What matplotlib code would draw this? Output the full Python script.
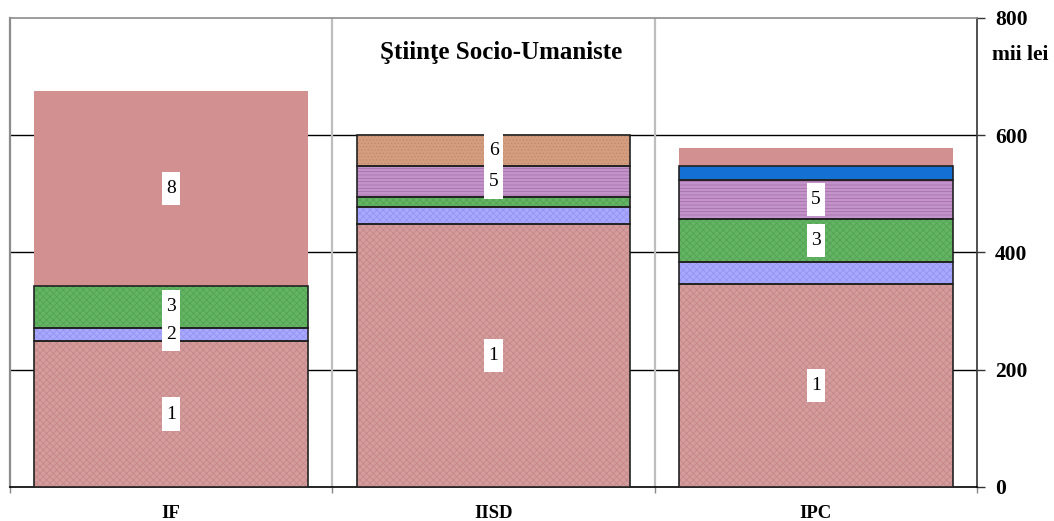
import numpy as np
import matplotlib
matplotlib.use('Agg')
from matplotlib import pyplot as plt
from matplotlib.path import Path

# date (mii lei)
categorii = ['IF', 'IISD', 'IPC']
seg1 = [249, 449, 347]
seg2 = [23, 29, 37]
seg3 = [71, 16, 73]
seg4 = [0, 0, 0]
seg5 = [0, 53, 67]
seg6 = [0, 53, 0]
seg7 = [0, 0, 23]
seg8 = [333, 0, 31]

# ce segmente au eticheta (1..8) pe fiecare coloana
etichete = [[1, 2, 3, 8], [1, 5, 6], [1, 3, 5]]

titlu = 'Ştiinţe Socio-Umaniste'
unitate = 'mii lei'
yticks = [0, 200, 400, 600, 800]

plt.rcParams['font.family'] = ['Liberation Serif', 'DejaVu Serif']
plt.rcParams['hatch.linewidth'] = 0.5

# stil pentru fiecare serie: culoare, hasura, culoare hasura, contur
stiluri = [
    ('#D49C9C', 'xxxxx', '#C48585', True),
    ('#A8A8FF', 'xxxxx', '#9292F0', True),
    ('#63B463', 'xxxxx', '#52A052', True),
    ('#C0C0C0', '', '#C0C0C0', True),
    ('#C394C9', '-----', '#A46AA8', True),
    ('#D59D7F', '.....', '#C08869', True),
    ('#1470D2', '', '#1470D2', True),
    ('#D39090', '', '#D39090', False),
]

serii = [seg1, seg2, seg3, seg4, seg5, seg6, seg7, seg8]


def cutie_alba(x0, y0, width, height, mutation_size):
    # dreptunghi cu margine mica pe orizontala, mai mare pe verticala
    px = 0.22 * mutation_size
    py = 0.42 * mutation_size
    x1, y1 = x0 - px, y0 - py
    x2, y2 = x0 + width + px, y0 + height + py
    return Path([(x1, y1), (x2, y1), (x2, y2), (x1, y2), (x1, y1)], closed=True)


fig = plt.figure(figsize=(10.54, 5.21), dpi=100)
ax = fig.add_axes([10 / 1054, 34 / 521, 967 / 1054, 469 / 521])

x = np.arange(len(categorii))
latime = 0.85
baza = np.zeros(len(categorii))

for i, (serie, stil) in enumerate(zip(serii, stiluri)):
    v = np.array(serie, dtype=float)
    culoare, hasura, cul_has, contur = stil
    ax.bar(x, v, latime, bottom=baza, color=culoare, hatch=hasura,
           edgecolor=cul_has, linewidth=0, zorder=3)
    if contur:
        for j in range(len(categorii)):
            if v[j] > 0:
                ax.bar(x[j], v[j], latime, bottom=baza[j], fill=False,
                       edgecolor='#222222', linewidth=1.2, zorder=4)
    for j in range(len(categorii)):
        if (i + 1) in etichete[j] and v[j] > 0:
            ax.text(x[j], baza[j] + v[j] / 2, str(i + 1), ha='center', va='center',
                    fontsize=14, zorder=6,
                    bbox=dict(boxstyle=cutie_alba, facecolor='white', edgecolor='none'))
    baza = baza + v

ax.set_xlim(-0.5, len(categorii) - 0.5)
ax.set_ylim(0, 800)

# linii orizontale
for yv in yticks[1:-1]:
    ax.axhline(yv, color='black', linewidth=1.0, zorder=1)
# separatori intre categorii
for xv in np.arange(0.5, len(categorii) - 0.5, 1):
    ax.axvline(xv, color='#BEBEBE', linewidth=1.6, zorder=1)

ax.spines['left'].set_color('#8C8C8C')
ax.spines['left'].set_linewidth(1.6)
ax.spines['top'].set_color('#8C8C8C')
ax.spines['top'].set_linewidth(1.2)
ax.spines['right'].set_color('#333333')
ax.spines['right'].set_linewidth(1.2)
ax.spines['bottom'].set_color('black')
ax.spines['bottom'].set_linewidth(1.2)

ax.yaxis.tick_right()
ax.set_yticks(yticks)
ax.set_yticklabels([str(t) for t in yticks], fontsize=15.5, fontweight='bold')
ax.tick_params(axis='y', direction='out', length=6, width=1, pad=7, color='#333333')

ax.set_xticks(x)
ax.set_xticklabels(categorii, fontsize=13.5, fontweight='bold')
ax.tick_params(axis='x', which='major', length=0, pad=13)
ax.set_xticks(np.arange(-0.5, len(categorii), 1), minor=True)
ax.tick_params(axis='x', which='minor', direction='out', length=4.5, width=1, color='#888888')

fig.text(501 / 1054, 1 - 53 / 521, titlu, ha='center', va='center',
         fontsize=18, fontweight='bold')
fig.text(1020 / 1054, 1 - 55 / 521, unitate, ha='center', va='center',
         fontsize=15.5, fontweight='bold')

fig.savefig('out.png', dpi=100)
